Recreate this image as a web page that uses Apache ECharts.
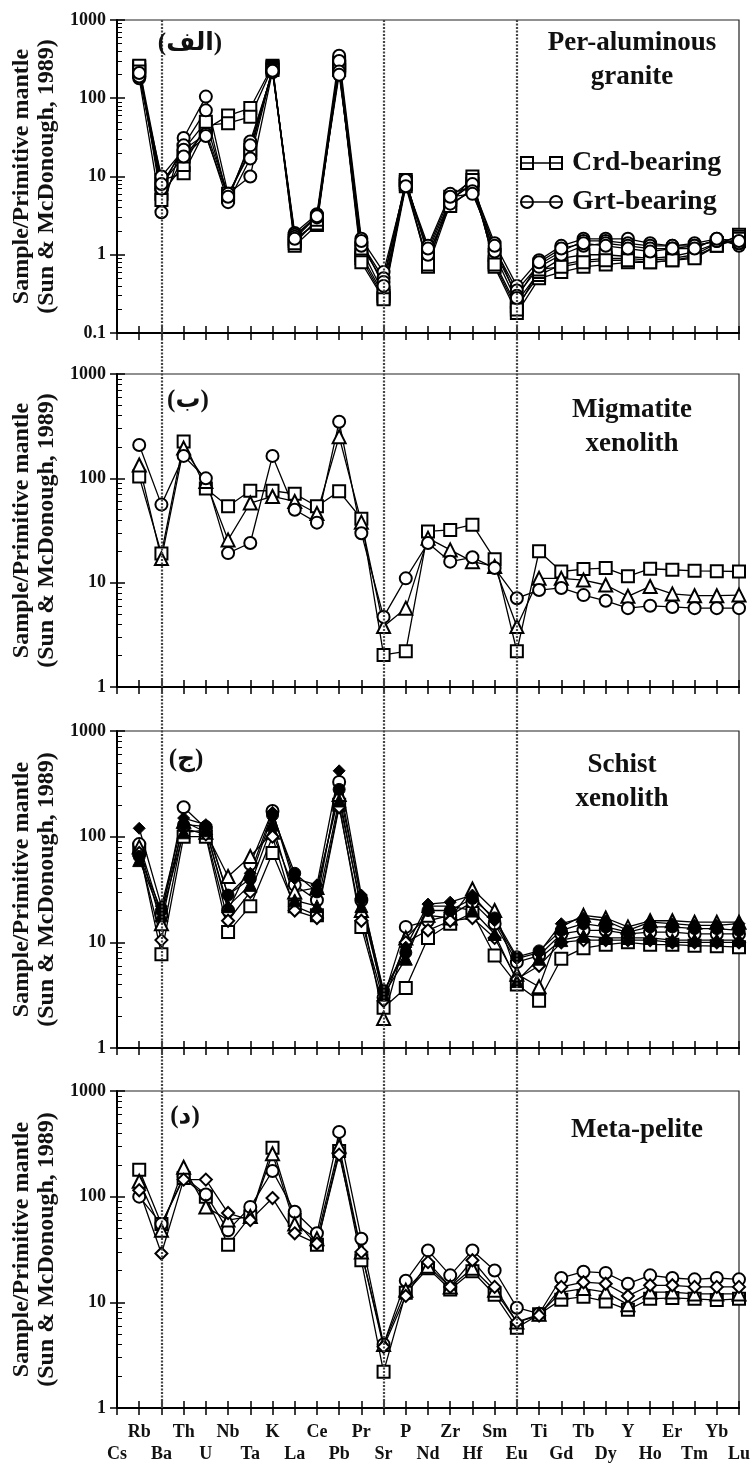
<!DOCTYPE html>
<html>
<head>
<meta charset="utf-8">
<script src="https://cdn.jsdelivr.net/npm/echarts@6.0.0/dist/echarts.min.js"></script>
<style>
  html, body { margin: 0; padding: 0; background: #fff; }
  #chart { width: 753px; height: 1464px; }
</style>
</head>
<body>
<div id="chart"></div>
<script>
// element order of the spider diagram (normalised to primitive mantle)
const elements = ['Cs', 'Rb', 'Ba', 'Th', 'U', 'Nb', 'Ta', 'K', 'La', 'Ce', 'Pb', 'Pr', 'Sr', 'P', 'Nd',
  'Zr', 'Hf', 'Sm', 'Eu', 'Ti', 'Gd', 'Tb', 'Dy', 'Y', 'Ho', 'Er', 'Tm', 'Yb', 'Lu'];
// dotted separators
const dividers = ['Ba', 'Sr', 'Eu'];
// y ranges of the four panels
const yMins = [0.1, 1, 1, 1];
const yMax = 1000;

// (الف) per-aluminous granite
const granCrd1 = [null, 250, 9, 11, 40, 60, 75, 260, 1.3, 2.4, 260, 0.9, 0.28, 8.5, 0.7, 4.5, 10, 0.7, 0.18, 0.5, 0.6, 0.7, 0.75, 0.8, 0.8, 0.85, 0.95, 1.3, 1.8];
const granCrd2 = [null, 230, 6, 14, 45, 48, 58, 250, 1.5, 2.7, 230, 1.0, 0.3, 8, 0.8, 5, 8, 0.8, 0.22, 0.55, 0.75, 0.85, 0.9, 0.9, 0.85, 0.9, 1.0, 1.4, 1.7];
const granCrd3 = [null, 260, 5, 18, 38, 6, 20, 240, 1.6, 2.5, 280, 1.2, 0.32, 9, 1.0, 4.2, 7, 1.0, 0.25, 0.6, 0.9, 1.0, 1.0, 0.95, 0.9, 0.95, 1.1, 1.4, 1.5];
const granCrd4 = [null, 220, 8, 22, 50, 5.5, 22, 230, 1.4, 2.8, 250, 0.8, 0.27, 7.5, 0.75, 5.5, 9, 0.75, 0.2, 0.65, 0.7, 0.8, 0.85, 0.85, 0.8, 0.85, 0.9, 1.3, 1.6];
const granGrt1 = [null, 180, 3.5, 31, 105, 6, 10, 220, 1.9, 3.3, 350, 1.6, 0.6, 8, 1.3, 6, 7.5, 1.4, 0.4, 0.85, 1.3, 1.6, 1.6, 1.6, 1.4, 1.3, 1.4, 1.6, 1.3];
const granGrt2 = [null, 200, 7, 25, 70, 5, 28, 215, 1.8, 3.0, 300, 1.4, 0.5, 8.5, 1.1, 5, 8, 1.2, 0.35, 0.75, 1.1, 1.5, 1.5, 1.4, 1.3, 1.3, 1.3, 1.5, 1.4];
const granGrt3 = [null, 190, 10, 22, 35, 4.7, 17, 230, 1.7, 3.2, 220, 1.3, 0.45, 9, 1.0, 4.5, 6.5, 1.1, 0.3, 0.7, 1.0, 1.3, 1.4, 1.3, 1.2, 1.2, 1.3, 1.5, 1.4];
const granGrt4 = [null, 210, 8, 18, 33, 5.5, 25, 225, 1.6, 3.1, 200, 1.5, 0.4, 7.5, 1.2, 5.5, 6, 1.3, 0.28, 0.8, 1.2, 1.4, 1.3, 1.2, 1.1, 1.2, 1.2, 1.6, 1.5];

// (ب) migmatite xenolith
const migSquare = [null, 104, 19, 225, 80, 54, 76, 76, 71, 54, 75, 41, 2.03, 2.2, 31, 32, 36, 16.8, 2.2, 20, 12.8, 13.5, 13.8, 11.5, 13.6, 13.3, 13, 12.9, 12.8];
const migTriangle = [null, 134, 17, 195, 93, 25.7, 58, 67, 60, 46, 251, 38, 3.8, 5.7, 26.7, 20.6, 15.9, 14.3, 3.8, 11, 11, 10.6, 9.5, 7.4, 9.2, 7.8, 7.5, 7.5, 7.6];
const migCircle = [null, 209, 56, 164, 100, 19.2, 24, 164, 50, 37.6, 349, 29.8, 4.7, 11, 24, 15.9, 17.5, 13.8, 7.1, 8.5, 8.9, 7.6, 6.7, 5.7, 6.0, 5.85, 5.7, 5.7, 5.7];

// (ج) schist xenolith
const schSquare = [null, 75, 7.7, 100, 100, 12.5, 22, 70, 22, 18, 200, 14, 2.4, 3.7, 11, 15, 19, 7.5, 4, 2.8, 7, 8.8, 9.5, 10, 9.5, 9.5, 9.3, 9.2, 9];
const schCircle = [null, 85, 18, 190, 120, 20, 55, 175, 35, 25, 330, 25, 3.0, 14, 16, 18, 24, 15, 6.5, 7.5, 12, 13, 13, 12, 12.5, 12.5, 12, 12, 12];
const schTriangle = [null, 80, 15, 140, 110, 42, 65, 110, 30, 33, 250, 20, 1.9, 11, 18, 17, 32, 20, 5, 3.8, 14, 18, 17, 14, 16, 16, 15.5, 15.5, 15.5];
const schDiamond = [null, 70, 10.5, 120, 105, 16, 30, 100, 20, 17, 190, 16, 2.8, 10, 13, 16, 17, 11, 4.5, 6, 10, 10.5, 10.5, 10.5, 10.5, 10, 10, 10, 10];
const schDiamondF = [null, 120, 22, 150, 130, 28, 45, 170, 40, 35, 420, 28, 3.3, 9, 23, 24, 28, 16, 7, 8, 15, 17, 16, 13, 15.5, 15, 14.5, 14.5, 15];
const schTriangleF = [null, 60, 18, 110, 115, 22, 35, 130, 25, 22, 220, 22, 3.2, 7, 22, 22, 20, 12, 4.3, 7, 10.5, 11.5, 11, 11, 11, 10.5, 10.5, 10.5, 10.5];
const schCircleF = [null, 65, 20, 130, 125, 28, 40, 160, 45, 30, 280, 26, 3.5, 8, 20, 20, 26, 17, 7.3, 8.3, 13, 15, 14, 12.5, 14, 14, 13.5, 13.5, 13];

// (د) meta-pelite
const pelSquare = [null, 180, 55, 150, 100, 35, 65, 290, 60, 35, 270, 25, 2.2, 12.3, 21, 13.2, 19.7, 11.8, 5.75, 7.7, 10.6, 11.3, 10.2, 8.5, 10.8, 11, 10.8, 10.5, 10.8];
const pelCircle = [null, 100, 55, 155, 105, 48, 80, 175, 72, 45, 410, 40, 4, 16, 31, 18, 31, 20, 8.9, 7.8, 17, 19.5, 19, 15, 18, 17, 16.5, 17, 16.5];
const pelTriangle = [null, 140, 48, 190, 80, 60, 65, 255, 55, 40, 300, 30, 4, 13, 22, 14, 21, 13, 6.5, 7.7, 12.5, 13.5, 12.5, 9.5, 12.5, 12.5, 12, 12, 12];
const pelDiamond = [null, 115, 29, 145, 145, 70, 60, 97, 45, 36, 250, 30, 3.8, 11.5, 24, 14, 25, 14, 6.5, 7.5, 14, 15.5, 15, 11.5, 14.5, 14.5, 14, 14, 14];

const FONT = "'Liberation Serif', 'Times New Roman', 'DejaVu Sans', serif";
const INK = '#111';

// log minor ticks (2..9 of each decade)
function minorTicks(min) {
  const out = [];
  for (let d = Math.round(Math.log10(min)); d < 3; d++) {
    for (let k = 2; k <= 9; k++) out.push(Number((k * Math.pow(10, d)).toPrecision(3)));
  }
  return out;
}

// panel layout: top, height (px)
const panels = [
  { top: 20, height: 313, series: [
    ['Crd-bearing', granCrd1, 'emptyRect'], ['Crd-bearing', granCrd2, 'emptyRect'],
    ['Crd-bearing', granCrd3, 'emptyRect'], ['Crd-bearing', granCrd4, 'emptyRect'],
    ['Grt-bearing', granGrt1, 'emptyCircle'], ['Grt-bearing', granGrt2, 'emptyCircle'],
    ['Grt-bearing', granGrt3, 'emptyCircle'], ['Grt-bearing', granGrt4, 'emptyCircle']
  ] },
  { top: 374, height: 313, series: [
    ['mig-1', migSquare, 'emptyRect'], ['mig-2', migTriangle, 'emptyTriangle'], ['mig-3', migCircle, 'emptyCircle']
  ] },
  { top: 731, height: 317, series: [
    ['sch-1', schSquare, 'emptyRect'], ['sch-2', schCircle, 'emptyCircle'], ['sch-3', schTriangle, 'emptyTriangle'],
    ['sch-4', schDiamond, 'emptyDiamond'], ['sch-5', schDiamondF, 'diamond'], ['sch-6', schTriangleF, 'triangle'],
    ['sch-7', schCircleF, 'circle']
  ] },
  { top: 1091, height: 317, series: [
    ['pel-1', pelSquare, 'emptyRect'], ['pel-2', pelCircle, 'emptyCircle'],
    ['pel-3', pelTriangle, 'emptyTriangle'], ['pel-4', pelDiamond, 'emptyDiamond']
  ] }
];

const grids = [];
const xAxes = [];
const yAxes = [];
const series = [];

panels.forEach(function (p, i) {
  grids.push({
    left: 117, right: 14, top: p.top, height: p.height,
    show: true, borderColor: '#222', borderWidth: 1.2,
    containLabel: false, outerBoundsMode: 'none'
  });
  // main x axis (ticks inside) + twin axis (ticks outside) -> crossing ticks
  xAxes.push({
    gridIndex: i, type: 'category', data: elements, boundaryGap: false, position: 'bottom',
    axisLine: { onZero: false, lineStyle: { color: '#000', width: 2 } },
    axisTick: { inside: true, length: 7, interval: 0, lineStyle: { color: '#000', width: 1.5 } },
    axisLabel: {
      show: i === 3, interval: 0, margin: 13, color: INK, fontFamily: FONT,
      fontWeight: 'bold', fontSize: 18, lineHeight: 22,
      formatter: function (v, idx) { return idx % 2 === 1 ? v : '\n' + v; }
    },
    splitLine: { show: false }
  });
  xAxes.push({
    gridIndex: i, type: 'category', data: elements, boundaryGap: false, position: 'bottom',
    axisLine: { show: false, onZero: false },
    axisTick: { inside: false, length: 7, interval: 0, lineStyle: { color: '#000', width: 1.5 } },
    axisLabel: { show: false }, splitLine: { show: false }
  });
  yAxes.push({
    gridIndex: i, type: 'log', logBase: 10, min: yMins[i], max: yMax, position: 'left',
    name: 'Sample/Primitive mantle\n(Sun & McDonough, 1989)',
    nameLocation: 'middle', nameGap: 47, nameRotate: 90,
    nameTextStyle: { color: INK, fontFamily: FONT, fontWeight: 'bold', fontSize: 24, lineHeight: 25 },
    axisLine: { show: true, lineStyle: { color: '#000', width: 2 } },
    axisTick: { show: true, inside: true, length: 8, lineStyle: { color: '#000', width: 1.5 } },
    axisLabel: {
      color: INK, fontFamily: FONT, fontWeight: 'bold', fontSize: 18, margin: 11,
      formatter: function (v) { return String(v); }
    },
    splitLine: { show: false }
  });
  yAxes.push({
    gridIndex: i, type: 'log', logBase: 10, min: yMins[i], max: yMax, position: 'left',
    axisLine: { show: false },
    axisTick: { show: true, inside: false, length: 7, lineStyle: { color: '#000', width: 1.5 } },
    axisLabel: { show: false }, splitLine: { show: false }
  });
  p.series.forEach(function (s) {
    const filled = s[2].indexOf('empty') !== 0;
    series.push({
      name: s[0], type: 'line', xAxisIndex: 2 * i, yAxisIndex: 2 * i,
      data: s[1], symbol: s[2], symbolSize: s[2].toLowerCase().indexOf('triangle') >= 0 ? 13 : 12,
      showAllSymbol: true, connectNulls: false,
      lineStyle: { color: '#000', width: 1.3 },
      itemStyle: { color: '#000', borderColor: '#000', borderWidth: filled ? 1 : 1.3 },
      emphasis: { disabled: true }, z: 2
    });
  });
});

// third y axis per panel: minor log ticks only
panels.forEach(function (p, i) {
  yAxes.push({
    gridIndex: i, type: 'log', logBase: 10, min: yMins[i], max: yMax, position: 'left',
    axisLine: { show: false },
    axisTick: { show: true, inside: true, length: 5, customValues: minorTicks(yMins[i]),
      lineStyle: { color: '#000', width: 1 } },
    axisLabel: { show: false }, splitLine: { show: false }
  });
});

// overlay grid spanning all panels for the dotted separators
grids.push({ left: 117, right: 14, top: 20, bottom: 56, show: false, containLabel: false, outerBoundsMode: 'none' });
xAxes.push({ gridIndex: 4, type: 'category', data: elements, boundaryGap: false, show: false });
yAxes.push({ gridIndex: 4, type: 'value', min: 0, max: 1, show: false });
series.push({
  name: 'dividers', type: 'line', xAxisIndex: 8, yAxisIndex: yAxes.length - 1, z: 1, silent: true,
  data: elements.map(function () { return null; }), symbol: 'none',
  markLine: {
    silent: true, symbol: ['none', 'none'], label: { show: false },
    lineStyle: { type: [2, 1.5], width: 2.2, color: '#444' },
    data: dividers.map(function (d) { return { xAxis: d }; })
  }
});

const titleStyle = { color: INK, fontFamily: FONT, fontWeight: 'bold', fontSize: 27, lineHeight: 34 };
const tagStyle = { color: INK, fontFamily: FONT, fontWeight: 'bold', fontSize: 25 };

const squareIcon = 'path://M0,0H14V14H0Z M2,2V12H12V2Z M29,0H43V14H29Z M31,2V12H41V2Z M0,6.3H43V7.7H0Z';
const circleIcon = 'path://M0,7A7,7,0,1,1,14,7A7,7,0,1,1,0,7Z M2,7A5,5,0,1,0,12,7A5,5,0,1,0,2,7Z ' +
  'M29,7A7,7,0,1,1,43,7A7,7,0,1,1,29,7Z M31,7A5,5,0,1,0,41,7A5,5,0,1,0,31,7Z M0,6.3H43V7.7H0Z';

const option = {
  animation: false,
  backgroundColor: '#fff',
  title: [
    { text: 'Per-aluminous\ngranite', left: 632, top: 26, textAlign: 'center', padding: 0, textStyle: titleStyle },
    { text: 'Migmatite\nxenolith', left: 632, top: 393, textAlign: 'center', padding: 0, textStyle: titleStyle },
    { text: 'Schist\nxenolith', left: 622, top: 748, textAlign: 'center', padding: 0, textStyle: titleStyle },
    { text: 'Meta-pelite', left: 637, top: 1113, textAlign: 'center', padding: 0, textStyle: titleStyle },
    { text: '(الف)', left: 190, top: 31, textAlign: 'center', padding: 0, textStyle: tagStyle },
    { text: '(ب)', left: 188, top: 388, textAlign: 'center', padding: 0, textStyle: tagStyle },
    { text: '(ج)', left: 186, top: 747, textAlign: 'center', padding: 0, textStyle: tagStyle },
    { text: '(د)', left: 185, top: 1104, textAlign: 'center', padding: 0, textStyle: tagStyle }
  ],
  legend: {
    orient: 'vertical', left: 520, top: 148, padding: 0, itemGap: 9,
    itemWidth: 43, itemHeight: 14, selectedMode: false,
    itemStyle: { color: '#000', borderWidth: 0 },
    textStyle: { color: INK, fontFamily: FONT, fontWeight: 'bold', fontSize: 28, lineHeight: 30, padding: [0, 0, 0, 4] },
    data: [
      { name: 'Crd-bearing', icon: squareIcon },
      { name: 'Grt-bearing', icon: circleIcon }
    ]
  },
  grid: grids,
  xAxis: xAxes,
  yAxis: yAxes,
  series: series
};

const chart = echarts.init(document.getElementById('chart'));
chart.setOption(option);
</script>
</body>
</html>
